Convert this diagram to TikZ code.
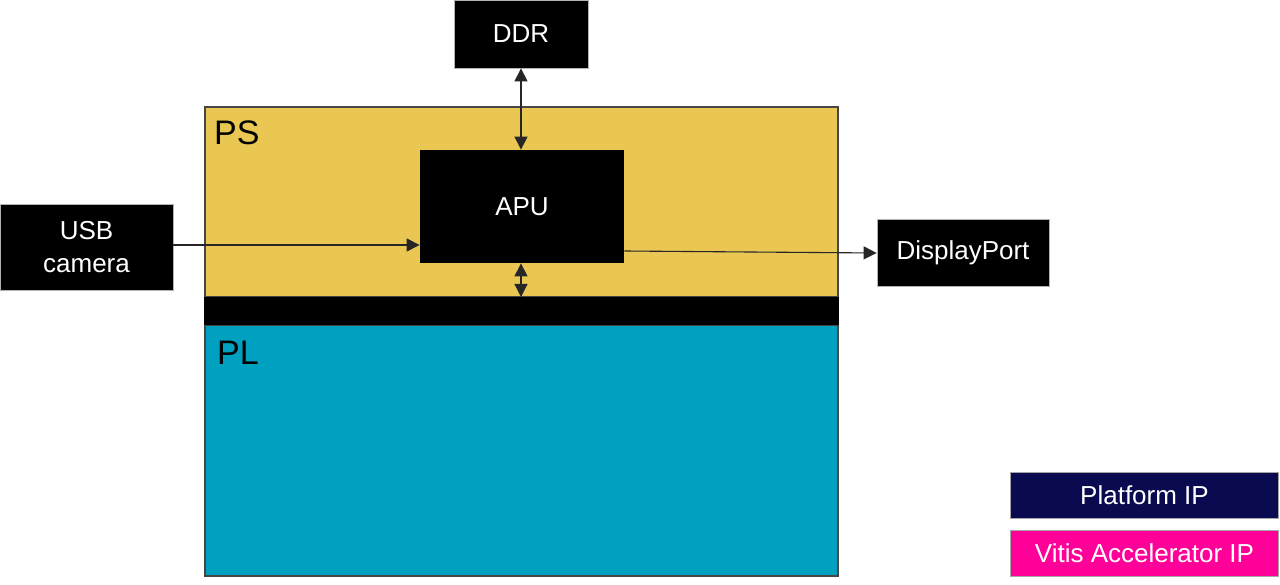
\documentclass[tikz,border=0pt]{standalone}
\usepackage{fontspec}
\setmainfont{Liberation Sans}
\usetikzlibrary{arrows.meta,positioning}
\definecolor{psyellow}{RGB}{234,199,82}
\definecolor{plteal}{RGB}{0,161,192}
\definecolor{navyip}{RGB}{10,10,80}
\definecolor{magip}{RGB}{255,0,153}
\definecolor{edgegray}{RGB}{70,70,70}
\begin{document}
\begin{tikzpicture}[x=1pt,y=-1pt,
  blk/.style={draw=gray!60,line width=0.8pt,fill=black,text=white,inner sep=0pt,
    font=\fontsize{26}{33}\selectfont,align=center},
  region/.style={draw=edgegray,line width=1.2pt,inner sep=0pt},
  conn/.style={draw=black!85,line width=1.1pt},
  tip/.style={-{Triangle[length=13pt,width=13pt]}},
  dtip/.style={{Triangle[length=13pt,width=13pt]}-{Triangle[length=13pt,width=13pt]}},
  regionlabel/.style={font=\fontsize{34}{40}\selectfont,anchor=north west,inner sep=0pt}]
\useasboundingbox (0,0) rectangle (1280,585);
% regions
\path[region,fill=psyellow] (205,107) rectangle (838,297);
\path[region,fill=plteal] (205,325) rectangle (838,576);
\path[fill=black] (204.4,297) rectangle (838.6,325);
\coordinate (barN) at (521,297);
\node[regionlabel] (PS) at (214,121) {PS};
\node[regionlabel] (PL) at (217,341) {PL};
% boxes
\node[blk,minimum width=134,minimum height=68] (DDR) at (521,34) {DDR};
\node[blk,draw=none,minimum width=204,minimum height=113] (APU) at (522,206.5) {APU};
\node[blk,minimum width=173,minimum height=86] (USB) at (86.5,247) {USB\\camera};
\node[blk,minimum width=172,minimum height=67] (DP) at (963,252.5) {DisplayPort};
\node[blk,draw=gray!70,fill=navyip,minimum width=268,minimum height=46] (PIP) at (1144.5,495) {Platform IP};
\node[blk,draw=gray!70,fill=magip,minimum width=268,minimum height=46] (VIP) at (1144.5,553) {Vitis Accelerator IP};
% connectors
\draw[conn,dtip] (DDR.south) -- (DDR.south |- APU.north);
\draw[conn,dtip] (APU.south -| DDR.south) -- (barN);
\coordinate (usbout) at (USB.east |- 0,245);
\draw[conn,tip] (usbout) -- (usbout -| APU.west);
\coordinate (apuout) at (APU.east |- 0,251);
\coordinate (dpin) at (DP.west |- 0,253);
\draw[conn,tip] (apuout) -- (dpin);
\end{tikzpicture}
\end{document}
